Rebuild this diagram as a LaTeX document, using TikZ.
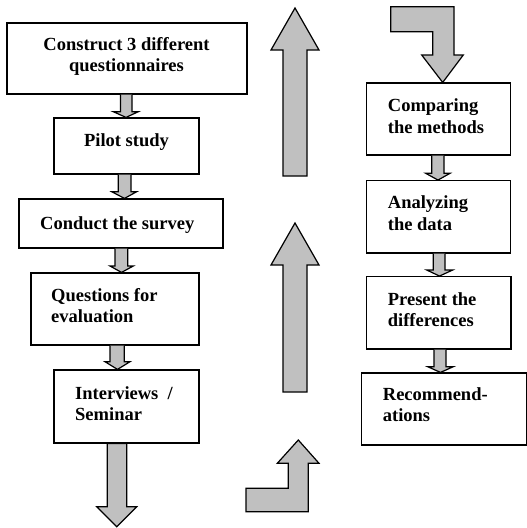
\documentclass[tikz,border=0pt]{standalone}
\usepackage{fontspec}
\setmainfont{Liberation Serif}
\begin{document}
\begin{tikzpicture}[x=1pt,y=-1pt,
  box/.style={draw=black,line width=1.2pt,fill=white,inner sep=0pt},
  txt/.style={font=\fontsize{18.5}{21.5}\selectfont\bfseries,inner sep=0pt},
  blk/.style={draw=black,line width=1.2pt,fill=arrowgray,line join=miter}]
\definecolor{arrowgray}{RGB}{192,192,192}
\useasboundingbox (0,0) rectangle (527,528);
% left column boxes
\node[box,minimum width=240pt,minimum height=71pt] (b1) at (127,58.5) {};
\node[box,minimum width=145pt,minimum height=56pt] (b2) at (126.5,146) {};
\node[box,minimum width=204pt,minimum height=49pt] (b3) at (121,223.5) {};
\node[box,minimum width=168pt,minimum height=72pt] (b4) at (115,309) {};
\node[box,minimum width=145pt,minimum height=73pt] (b5) at (126.5,406.5) {};
% right column boxes
\node[box,minimum width=144pt,minimum height=72pt] (r1) at (438.7,119) {};
\node[box,minimum width=144pt,minimum height=72.3pt] (r2) at (438.7,216.8) {};
\node[box,minimum width=144.3pt,minimum height=72.3pt] (r3) at (438.8,312.8) {};
\node[box,minimum width=165pt,minimum height=72pt] (r4) at (444.2,409) {};
% texts
\node[txt,anchor=base] (t1a) at (126.5,50) {Construct 3 different};
\node[txt,anchor=base] (t1b) at (126.5,71.7) {questionnaires};
\node[txt,anchor=base] (t2) at (126.5,146.7) {Pilot study};
\node[txt,anchor=base west] (t3) at (40,229.3) {Conduct the survey};
\node[txt,anchor=base west] (t4a) at (51,301.7) {Questions for};
\node[txt,anchor=base west] (t4b) at (51,322.7) {evaluation};
\node[txt,anchor=base west] (t5a) at (75,399.3) {Interviews\ \ /};
\node[txt,anchor=base west] (t5b) at (75,420) {Seminar};
\node[txt,anchor=base west] (tr1a) at (387.7,111.7) {Comparing};
\node[txt,anchor=base west] (tr1b) at (387.7,133.3) {the methods};
\node[txt,anchor=base west] (tr2a) at (387.7,208.3) {Analyzing};
\node[txt,anchor=base west] (tr2b) at (387.7,230) {the data};
\node[txt,anchor=base west] (tr3a) at (387.7,305) {Present the};
\node[txt,anchor=base west] (tr3b) at (387.7,326.7) {differences};
\node[txt,anchor=base west] (tr4a) at (382.7,400) {Recommend-};
\node[txt,anchor=base west] (tr4b) at (382.7,421.7) {ations};
% small block arrows, left column
\draw[blk] (120.5,0 |- b1.south) -- (120.5,111.7) -- (113.3,111.7) -- (126,0 |- b2.north) -- (138.3,111.7) -- (132,111.7) -- (132,0 |- b1.south);
\draw[blk] (118.3,0 |- b2.south) -- (118.3,191.7) -- (111.7,191.7) -- (124.5,0 |- b3.north) -- (136.7,191.7) -- (131,191.7) -- (131,0 |- b2.south);
\draw[blk] (115,0 |- b3.south) -- (115,266) -- (110,266) -- (121.5,0 |- b4.north) -- (133.3,266) -- (127.7,266) -- (127.7,0 |- b3.south);
\draw[blk] (110,0 |- b4.south) -- (110,361.7) -- (105,361.7) -- (117.5,0 |- b5.north) -- (130,361.7) -- (124.3,361.7) -- (124.3,0 |- b4.south);
% big down arrow
\coordinate (endL) at (116.7,526.7);
\draw[blk] (107.3,0 |- b5.south) -- (107.3,506.7) -- (96.7,506.7) -- (endL) -- (136.7,506.7) -- (126.7,506.7) -- (126.7,0 |- b5.south) -- cycle;
% small block arrows, right column
\draw[blk] (431.7,0 |- r1.south) -- (431.7,173.3) -- (425.7,173.3) -- (438,0 |- r2.north) -- (450,173.3) -- (444,173.3) -- (444,0 |- r1.south);
\draw[blk] (433.3,0 |- r2.south) -- (433.3,270) -- (426.7,270) -- (439.5,0 |- r3.north) -- (452.7,270) -- (445,270) -- (445,0 |- r2.south);
\draw[blk] (434,0 |- r3.south) -- (434,366.7) -- (427.7,366.7) -- (440.5,0 |- r4.north) -- (453.3,366.7) -- (446,366.7) -- (446,0 |- r3.south);
% big up arrows (middle)
\draw[blk] (283,176) -- (283,50) -- (271,50) -- (295,8) -- (319,50) -- (307,50) -- (307,176) -- cycle;
\draw[blk] (283,392) -- (283,265) -- (271,265) -- (295,223) -- (319,265) -- (307,265) -- (307,392) -- cycle;
% bent arrow bottom
\draw[blk] (246,488.3) -- (288.3,488.3) -- (288.3,463.3) -- (277.3,463.3) -- (298.3,440) -- (319,463.3) -- (308.3,463.3) -- (308.3,511.7) -- (246,511.7) -- cycle;
% bent arrow top right
\draw[blk] (390.7,6.7) -- (454,6.7) -- (454,55) -- (463.3,55) -- (442.7,0 |- r1.north) -- (421.7,55) -- (432.7,55) -- (432.7,31.7) -- (390.7,31.7) -- cycle;
\end{tikzpicture}
\end{document}
